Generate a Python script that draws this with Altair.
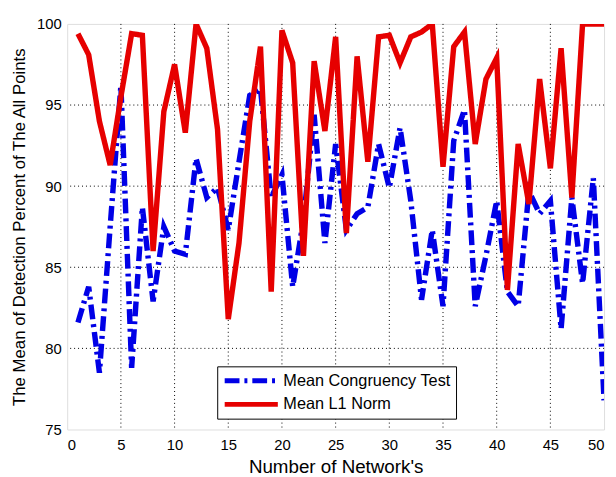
import altair as alt
import pandas as pd

networks = list(range(1, 51))
l1_norm = [99.4, 98.1, 94.0, 91.3, 95.5, 99.4, 99.3, 86.0, 94.6, 97.5,
           93.3, 100.0, 98.5, 93.5, 81.8, 86.5, 94.0, 98.6, 83.5, 99.6,
           97.6, 85.7, 97.7, 93.4, 99.2, 87.1, 98.0, 91.5, 99.2, 99.3,
           97.6, 99.2, 99.5, 100.0, 91.2, 98.6, 99.5, 92.6, 96.6, 97.9,
           83.6, 92.6, 88.9, 96.6, 91.1, 98.5, 89.3, 100.0, 100.0, 100.0]
congruency = [81.6, 83.8, 78.5, 87.5, 96.2, 78.8, 88.7, 82.9, 87.5, 86.0,
              85.8, 91.7, 89.3, 89.9, 87.3, 91.5, 95.6, 96.0, 89.3, 90.7,
              83.8, 87.9, 94.4, 86.5, 92.6, 87.3, 88.3, 88.7, 92.6, 89.9,
              93.6, 89.1, 83.0, 87.3, 82.6, 92.8, 94.7, 82.6, 85.7, 89.1,
              83.5, 82.6, 89.7, 88.3, 89.1, 81.2, 89.3, 84.0, 90.5, 76.8]
series_names = ["Mean Congruency Test", "Mean L1 Norm"]
x_ticks = [0, 5, 10, 15, 20, 25, 30, 35, 40, 45, 50]
y_ticks = [75, 80, 85, 90, 95, 100]

rows = []
for i, x in enumerate(networks):
    rows.append({"x": x, "y": congruency[i], "series": series_names[0]})
for i, x in enumerate(networks):
    rows.append({"x": x, "y": l1_norm[i], "series": series_names[1]})
df = pd.DataFrame(rows)
gx = pd.DataFrame({"x": x_ticks[1:-1]})
gy = pd.DataFrame({"y": y_ticks[1:-1]})

FONT = "Liberation Sans"

xscale = alt.Scale(domain=[0, 50], nice=False, zero=False)
yscale = alt.Scale(domain=[75, 100], nice=False, zero=False)

legend_cfg = dict(title=None, orient="none", legendX=152, legendY=347,
                  strokeColor="black", fillColor="white", padding=5,
                  symbolType="stroke", symbolSize=2900, clipHeight=19,
                  symbolStrokeWidth=5, labelFontSize=16.5,
                  labelFont=FONT, labelColor="black", labelOffset=3,
                  rowPadding=5, labelLimit=400)

grid_x = alt.Chart(gx).mark_rule(color="black", strokeDash=[1, 3], strokeWidth=1).encode(
    x=alt.X("x:Q", scale=xscale))
grid_y = alt.Chart(gy).mark_rule(color="black", strokeDash=[1, 3], strokeWidth=1).encode(
    y=alt.Y("y:Q", scale=yscale))

lines = alt.Chart(df).mark_line(strokeWidth=5.5, clip=True, strokeJoin="miter").encode(
    x=alt.X("x:Q", scale=xscale,
            axis=alt.Axis(title="Number of Network's", values=x_ticks,
                          format="d", ticks=False, labelPadding=8, titlePadding=6,
                          labelFontSize=15, titleFontSize=19, labelColor="black",
                          titleColor="black", labelFont=FONT, titleFont=FONT,
                          titleFontWeight="normal", domain=False, labelOverlap=False,
                          grid=False)),
    y=alt.Y("y:Q", scale=yscale,
            axis=alt.Axis(title="The Mean of Detection Percent of The All Points",
                          values=y_ticks, ticks=False, labelPadding=6,
                          titlePadding=8, labelFontSize=15, titleFontSize=17,
                          labelColor="black", titleColor="black", labelFont=FONT,
                          titleFont=FONT, titleFontWeight="normal", domain=False,
                          grid=False)),
    color=alt.Color("series:N",
                    scale=alt.Scale(domain=series_names, range=["#0000e6", "#e60000"]),
                    legend=alt.Legend(**legend_cfg)),
    strokeDash=alt.StrokeDash("series:N",
                              scale=alt.Scale(domain=series_names, range=[[15, 5, 3, 5], [1, 0]]),
                              legend=alt.Legend(**legend_cfg)),
)

chart = alt.layer(grid_x, grid_y, lines).properties(
    width=544, height=411,
    autosize=alt.AutoSizeParams(type="none"),
    padding={"left": 60, "top": 13, "right": 4, "bottom": 45},
).configure_view(stroke="black", strokeWidth=1.2).configure(background="white")

chart.save("out.html", embed_options={"renderer": "svg", "actions": False})
